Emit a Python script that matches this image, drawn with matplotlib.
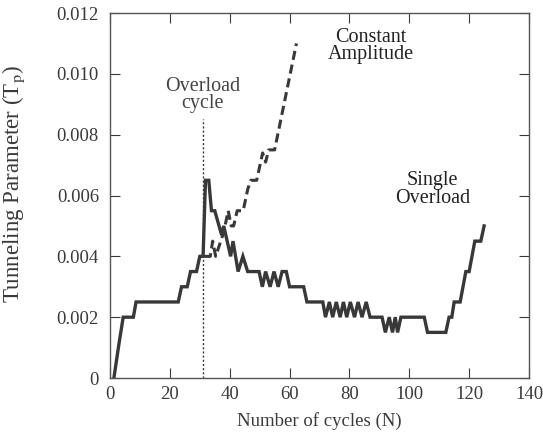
import matplotlib
matplotlib.use('Agg')
from matplotlib import pyplot as plt

# single overload curve
single_x = [1.3, 2.8, 4.4, 7.8, 8.7, 22.8, 23.9, 25.8, 26.9, 28.9, 30.0, 31.1,
            31.9, 33.0, 33.9, 35.0, 37.3, 38.0, 40.3, 41.1, 42.8, 44.4, 46.0,
            49.8, 50.9, 52.0, 53.5, 54.8, 56.2, 57.5, 58.9, 60.0, 64.7, 65.8,
            71.1, 72.0, 73.3, 74.4, 75.6, 76.9, 78.0, 79.1, 80.3, 81.7, 82.9,
            84.2, 85.6, 86.9, 90.9, 92.0, 93.3, 94.4, 95.3, 96.1, 97.2, 105.0,
            106.1, 112.2, 113.3, 114.2, 115.0, 117.0, 118.9, 120.0, 121.9,
            123.9, 125.0]
single_y = [0.0, 0.001, 0.002, 0.002, 0.0025, 0.0025, 0.003, 0.003, 0.0035,
            0.0035, 0.004, 0.004, 0.0065, 0.0065, 0.0055, 0.0055, 0.0047,
            0.005, 0.004, 0.0045, 0.0035, 0.004, 0.0035, 0.0035, 0.003,
            0.0035, 0.003, 0.0035, 0.003, 0.0035, 0.0035, 0.003, 0.003,
            0.0025, 0.0025, 0.002, 0.0025, 0.002, 0.0025, 0.002, 0.0025,
            0.002, 0.0025, 0.002, 0.0025, 0.002, 0.0025, 0.002, 0.002,
            0.0015, 0.002, 0.0015, 0.002, 0.0015, 0.002, 0.002, 0.0015,
            0.0015, 0.002, 0.002, 0.0025, 0.0025, 0.0035, 0.0035, 0.0045,
            0.0045, 0.005]

# constant amplitude curve
const_x = [31.5, 33.5, 34.3, 35.3, 37.0, 38.0, 39.5, 40.5, 41.3, 42.5, 44.5,
           46.0, 47.0, 49.0, 51.0, 52.0, 53.0, 55.0, 62.3]
const_y = [0.004, 0.004, 0.0045, 0.004, 0.0045, 0.0048, 0.0055, 0.005, 0.005,
           0.0055, 0.0055, 0.0062, 0.0065, 0.0065, 0.0074, 0.0071, 0.0075,
           0.0075, 0.011]

overload_x = 31
overload_top = 0.0085

xticks = [0, 20, 40, 60, 80, 100, 120, 140]
yticks = [0, 0.002, 0.004, 0.006, 0.008, 0.010, 0.012]
yticklabels = ['0', '0.002', '0.004', '0.006', '0.008', '0.010', '0.012']

plt.rcParams['font.family'] = ['Liberation Serif', 'DejaVu Serif']
plt.rcParams['mathtext.fontset'] = 'stix'

fig = plt.figure(figsize=(5.43, 4.34), dpi=100)
ax = fig.add_axes([0.2026, 0.129, 0.7716, 0.841])

line_col = '#383838'
text_col = '#3a3a3a'

ax.plot(single_x, single_y, color=line_col, lw=2.4, solid_joinstyle='miter')
ax.plot(const_x, const_y, color=line_col, lw=2.2, ls=(0, (3, 1.6)))
ax.plot([overload_x, overload_x], [0, overload_top], color=line_col, lw=1.0,
        ls=(0, (1.5, 1.5)))

ax.text(31, 0.0093, 'Overload\ncycle', ha='center', va='center',
        fontsize=14.5, color='#444444', linespacing=0.9)
ax.text(87, 0.01092, 'Constant\nAmplitude', ha='center', va='center',
        fontsize=14.5, color='#222222', linespacing=0.9)
ax.text(107.7, 0.0062, 'Single\nOverload', ha='center', va='center',
        fontsize=14.5, color='#222222', linespacing=0.9)

ax.set_xlim(0, 140)
ax.set_ylim(0, 0.012)
ax.set_xticks(xticks)
ax.set_yticks(yticks)
ax.set_yticklabels(yticklabels)
ax.tick_params(direction='in', top=True, right=True, length=7, width=0.8,
               labelsize=13.5, colors='#3a3a3a')
ax.tick_params(axis='y', pad=8)
ax.tick_params(axis='x', pad=6)
for s in ax.spines.values():
    s.set_color('#555555')
    s.set_linewidth(1.0)

ax.set_xlabel('Number of cycles (N)', fontsize=13.5, color=text_col,
              labelpad=6)
ax.set_ylabel('Tunneling Parameter (T$_\\mathrm{p}$)', fontsize=16.5,
              color=text_col)
ax.yaxis.set_label_coords(-0.198, 0.53)

fig.savefig('out.png', dpi=100)
